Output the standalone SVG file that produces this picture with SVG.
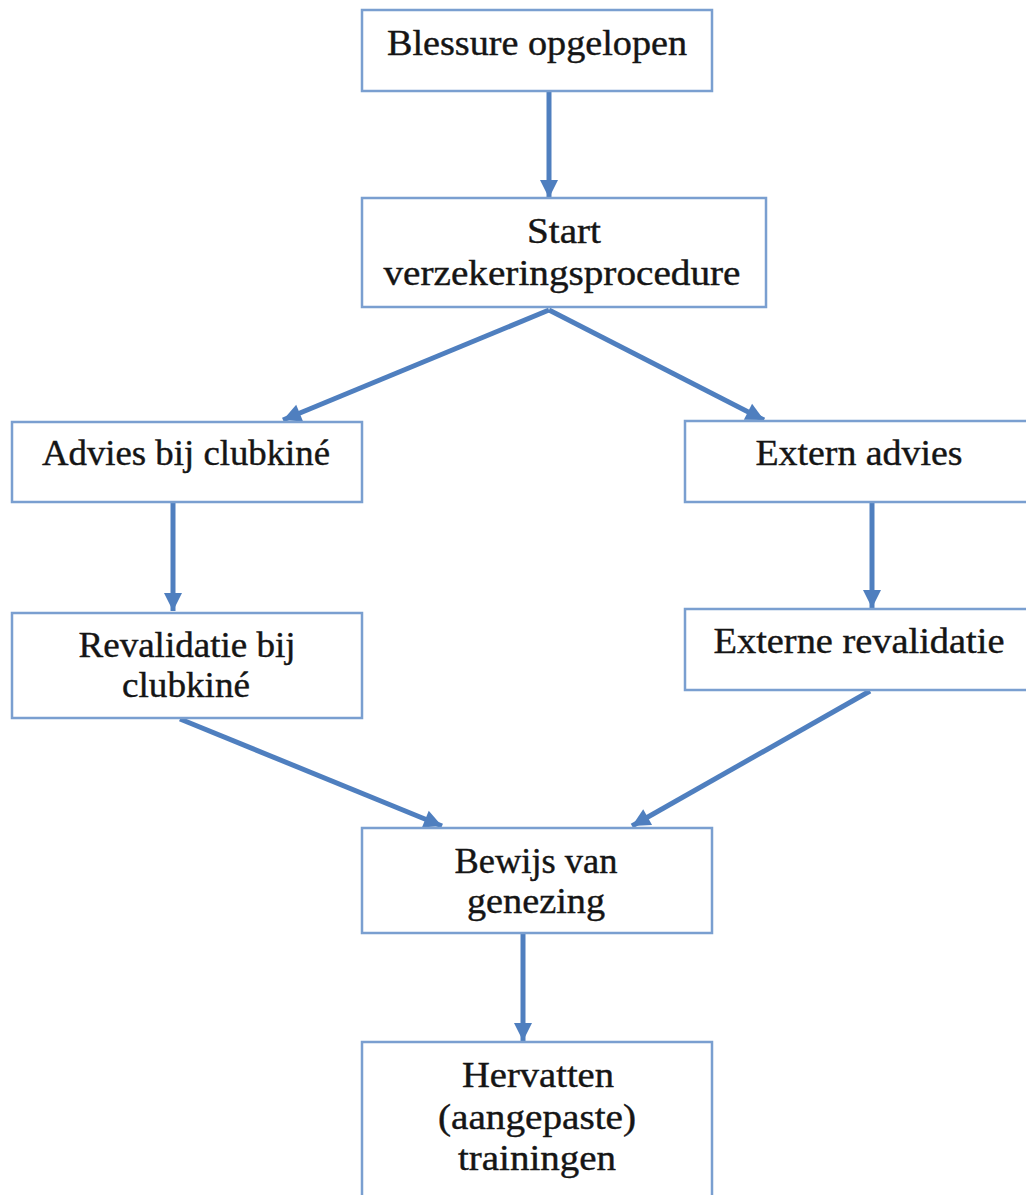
<svg xmlns="http://www.w3.org/2000/svg" width="1026" height="1195" viewBox="0 0 1026 1195">
<defs>
<style>
.box{fill:#ffffff;stroke:#7a9fd0;stroke-width:2.5}
.lbl{font-family:"Liberation Serif","DejaVu Serif",serif;font-size:35px;fill:#151515;stroke:#151515;stroke-width:0.4;text-anchor:middle}
.con{stroke:#4f7fbf;stroke-width:5;fill:none;marker-end:url(#ah)}
</style>
<marker id="ah" markerUnits="userSpaceOnUse" markerWidth="22" markerHeight="22" viewBox="0 0 22 22" refX="20" refY="11" orient="auto">
<path d="M2,2 L20,11 L2,20 Z" fill="#4f7fbf"/>
</marker>
</defs>
<rect width="1026" height="1195" fill="#ffffff"/>
<g id="connectors">
<line class="con" x1="549" y1="92" x2="549" y2="198"/>
<line class="con" x1="549" y1="310" x2="283" y2="420"/>
<line class="con" x1="549" y1="310" x2="764" y2="420"/>
<line class="con" x1="173" y1="503" x2="173" y2="611"/>
<line class="con" x1="872" y1="503" x2="872" y2="608"/>
<line class="con" x1="180" y1="719" x2="442" y2="826"/>
<line class="con" x1="870" y1="691" x2="632" y2="826"/>
<line class="con" x1="523" y1="934" x2="523" y2="1041"/>
</g>
<g id="n1"><rect class="box" x="362" y="10" width="350" height="81"/><text class="lbl" x="537" y="55" textLength="300" lengthAdjust="spacingAndGlyphs">Blessure opgelopen</text></g>
<g id="n2"><rect class="box" x="362" y="198" width="404" height="109"/><text class="lbl" x="564" y="243" textLength="74" lengthAdjust="spacingAndGlyphs">Start</text><text class="lbl" x="562" y="285" textLength="357" lengthAdjust="spacingAndGlyphs">verzekeringsprocedure</text></g>
<g id="n3"><rect class="box" x="12" y="422" width="350" height="80"/><text class="lbl" x="186" y="465" textLength="288" lengthAdjust="spacingAndGlyphs">Advies bij clubkiné</text></g>
<g id="n4"><rect class="box" x="685" y="421" width="360" height="81"/><text class="lbl" x="859" y="465" textLength="207" lengthAdjust="spacingAndGlyphs">Extern advies</text></g>
<g id="n5"><rect class="box" x="12" y="613" width="350" height="105"/><text class="lbl" x="187" y="657" textLength="217" lengthAdjust="spacingAndGlyphs">Revalidatie bij</text><text class="lbl" x="186" y="697" textLength="128" lengthAdjust="spacingAndGlyphs">clubkiné</text></g>
<g id="n6"><rect class="box" x="685" y="609" width="360" height="81"/><text class="lbl" x="859" y="653" textLength="291" lengthAdjust="spacingAndGlyphs">Externe revalidatie</text></g>
<g id="n7"><rect class="box" x="362" y="828" width="350" height="105"/><text class="lbl" x="536" y="873" textLength="163" lengthAdjust="spacingAndGlyphs">Bewijs van</text><text class="lbl" x="536" y="913" textLength="138" lengthAdjust="spacingAndGlyphs">genezing</text></g>
<g id="n8"><rect class="box" x="362" y="1042" width="350" height="170"/><text class="lbl" x="538" y="1087" textLength="152" lengthAdjust="spacingAndGlyphs">Hervatten</text><text class="lbl" x="537" y="1129" textLength="198" lengthAdjust="spacingAndGlyphs">(aangepaste)</text><text class="lbl" x="537" y="1170" textLength="158" lengthAdjust="spacingAndGlyphs">trainingen</text></g>
</svg>
